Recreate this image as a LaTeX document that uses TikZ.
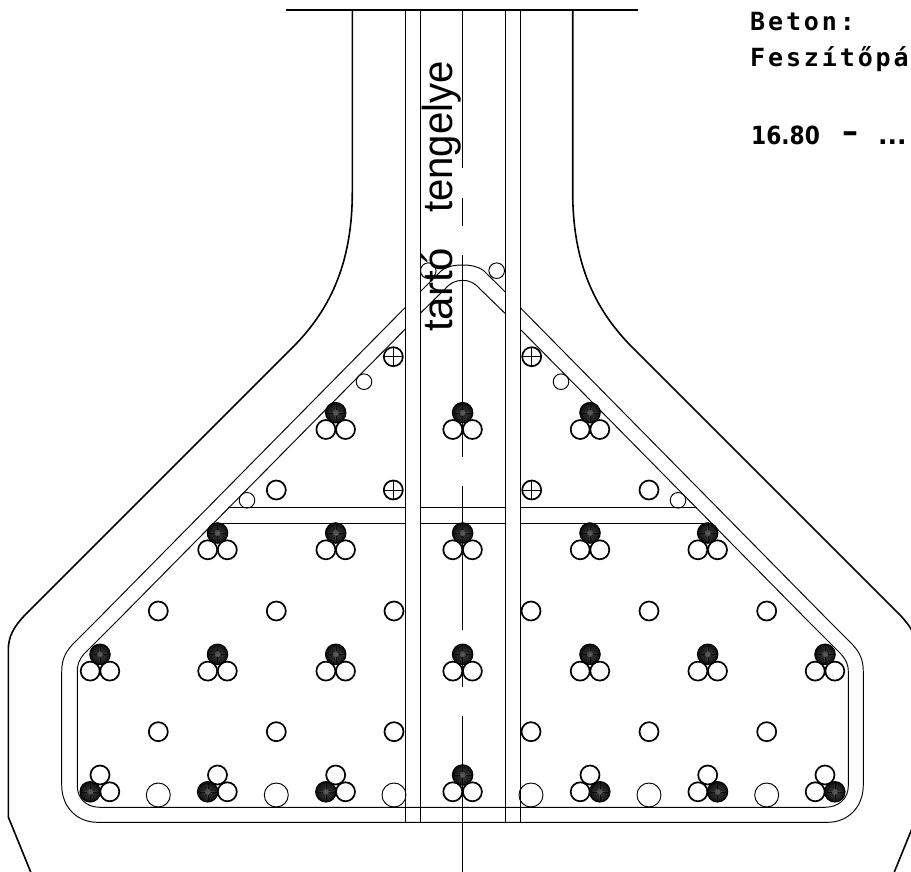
\documentclass[tikz,border=0pt]{standalone}
\usepackage{fontspec}
\setmainfont{Liberation Sans}
\newfontfamily\cadfont[LetterSpace=11.5]{DejaVu Sans Mono Bold}
\newfontfamily\cadnum{DejaVu Sans Bold}
\newcommand{\DarkBall}[2]{%
  \shade[inner color=black!62,outer color=black!96] (#1,#2) circle (10.3);
  \foreach \ang in {0,15,...,345}{\draw[black!95,line width=.35] ($(#1,#2)+(\ang:3)$) -- ($(#1,#2)+(\ang:10)$);}
  \draw[black,line width=.9] (#1,#2) circle (10.3);}
\newcommand{\OpenBall}[2]{\draw[rebar] (#1,#2) circle (9.5);}
\newcommand{\CrossBall}[2]{\draw[rebar] (#1,#2) circle (9.5);
  \draw[thinl] (#1-9.5,#2) -- (#1+9.5,#2) (#1,#2-9.5) -- (#1,#2+9.5);}
\newcommand{\TopCluster}[2]{\DarkBall{#1}{#2}\OpenBall{#1-9.8}{#2+16.8}\OpenBall{#1+9.8}{#2+16.8}}
\newcommand{\LeftCluster}[2]{\DarkBall{#1-9.8}{#2+16.8}\OpenBall{#1}{#2}\OpenBall{#1+9.8}{#2+16.8}}
\newcommand{\RightCluster}[2]{\DarkBall{#1+9.8}{#2+16.8}\OpenBall{#1}{#2}\OpenBall{#1-9.8}{#2+16.8}}
\usetikzlibrary{calc}
\tikzset{
  outline/.style={black,line width=1.6},
  thinl/.style={black,line width=.95},
  rebar/.style={black,line width=1.7},
  tiny/.style={black,line width=.95},
  axisline/.style={black,line width=1.25},
}
\begin{document}
\begin{tikzpicture}[x=1pt,y=-1pt]
\useasboundingbox (0,0) rectangle (911,872);
\clip (0,0) rectangle (911,872);
% top edge
\draw[outline] (286,10) -- (638,10);
% outer contour
\draw[outline] (352.3,10) -- (352.3,192) .. controls (352.3,265) and (329,312) .. (290,350)
  -- (24,616) .. controls (14,627) and (8.3,636) .. (8.3,650) -- (8.3,817) -- (30.7,872);
\draw[outline] (572.7,10) -- (572.7,192) .. controls (572.7,265) and (596,312) .. (635,350)
  -- (901,616) .. controls (911,627) and (916.7,636) .. (916.7,650) -- (916.7,817) -- (894.3,872);
% axis
\draw[axisline] (462.6,10) -- (462.6,168) (462.6,198) -- (462.6,226) (462.6,255) -- (462.6,457)
  (462.6,486) -- (462.6,630) (462.6,658) -- (462.6,687) (462.6,716) -- (462.6,872);
% web stirrup verticals
\draw[thinl] (405,10) -- (405,822.3) (420.3,10) -- (420.3,822.3)
  (505,10) -- (505,822.3) (520.3,10) -- (520.3,822.3);
% stirrup, outer line
\draw[thinl] (405,307.7) -- (97,620) -- (72,645) .. controls (65,653) and (61.7,660) .. (61.7,672)
  -- (61.7,785) .. controls (61.7,808) and (78,822.3) .. (97,822.3) -- (828,822.3)
  .. controls (847,822.3) and (863.3,808) .. (863.3,785) -- (863.3,672)
  .. controls (863.3,660) and (860,653) .. (853,645) -- (828,620) -- (520.3,307.7);
% stirrup, inner line
\draw[thinl] (405,329.3) -- (118,620) -- (84,654) .. controls (79,660) and (77.3,664) .. (77.3,672)
  -- (77.3,786) .. controls (77.3,799) and (87,807.3) .. (100,807.3) -- (825,807.3)
  .. controls (838,807.3) and (848.3,799) .. (848.3,786) -- (848.3,672)
  .. controls (848.3,664) and (846,660) .. (841,654) -- (807,620) -- (520.3,329.3);
% stirrup in the web
\draw[thinl] (420.3,291.7) -- (441,271) .. controls (447,266) and (455,265) .. (462.6,265)
  .. controls (470,265) and (478,266) .. (484,271) -- (505,291.7);
\draw[thinl] (420.3,313.3) -- (445,289) .. controls (450,283) and (456,280.3) .. (462.6,280.3)
  .. controls (469,280.3) and (475,283) .. (480,289) -- (505,313.3);
% horizontal stirrup
\draw[thinl] (228,507.7) -- (405,507.7) (420.3,507.7) -- (505,507.7) (520.3,507.7) -- (697,507.7);
\draw[thinl] (212,523.3) -- (405,523.3) (420.3,523.3) -- (505,523.3) (520.3,523.3) -- (713,523.3);
% strand clusters
\foreach \cx in {335.7,462.6,590}{\TopCluster{\cx}{412.7}}
\foreach \cx in {217.5,335.7,462.6,590,707.7}{\TopCluster{\cx}{533}}
\foreach \cx in {100,217.5,335.7,462.6,590,707.7,825}{\TopCluster{\cx}{654.3}}
\foreach \cx in {100,217.5,335.7}{\LeftCluster{\cx}{775}}
\TopCluster{462.6}{775}
\foreach \cx in {590,707.7,825}{\RightCluster{\cx}{775}}
% single bars
\foreach \cx in {158.3,276.3,394,531,649,766.7}{\OpenBall{\cx}{611}\OpenBall{\cx}{731.7}}
\OpenBall{276.3}{490}\OpenBall{649}{490}
\CrossBall{393.3}{490}\CrossBall{531.7}{490}\CrossBall{393.3}{356.7}\CrossBall{531.7}{356.7}
% small bars
\foreach \px/\py in {364/381.7,561/381.7,247/500.3,678/500.3,428.3/270.7,496.7/270.7}{\draw[tiny] (\px,\py) circle (7.8);}
% large bars
\foreach \cx in {158.3,276.3,394,531,649,766.7}{\draw[tiny] (\cx,795) circle (12);}
% labels
\node[rotate=90,anchor=base west,inner sep=0pt,font=\fontsize{42}{42}\selectfont] (axislabel) at (452,332) {tartó\hspace{35pt}\scalebox{.955}[1]{tengelye}};
\node[anchor=base west,inner sep=0pt,font=\cadfont\fontsize{25}{25}\selectfont] (beton) at (750,31) {Beton:};
\node[anchor=base west,inner sep=0pt,font=\cadfont\fontsize{25}{25}\selectfont] (feszito) at (750,67) {Feszítőpá};
\node[anchor=base west,inner sep=0pt,font=\cadnum\fontsize{25}{25}\selectfont] (range) at (751,145) {\scalebox{.87}[1]{16.80}};
\node[anchor=base west,inner sep=0pt,font=\cadnum\fontsize{32}{32}\selectfont] (dash) at (842,143) {–};
\node[anchor=base west,inner sep=0pt,font=\cadnum\fontsize{25}{25}\selectfont] (dots) at (878,145) {...};
\end{tikzpicture}
\end{document}
